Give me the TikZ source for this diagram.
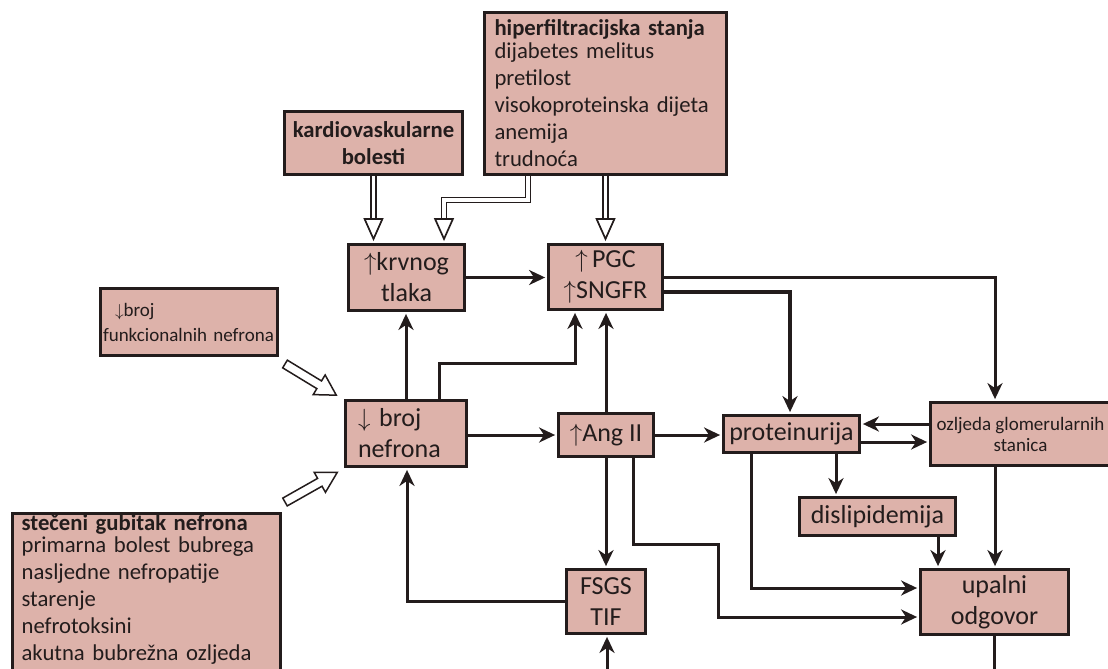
\documentclass[tikz,border=0pt]{standalone}
\usepackage{fontspec}
\setmainfont{Carlito}
\usetikzlibrary{arrows.meta}
\definecolor{boxfill}{RGB}{221,178,170}
\definecolor{ink}{RGB}{35,28,28}
\pgfdeclarelayer{bg}
\pgfsetlayers{bg,main}
\begin{document}
\begin{tikzpicture}[x=1pt,y=-1pt,
  box/.style={draw=ink, line width=3.6pt, fill=boxfill, text=ink, inner sep=0pt, align=center},
  fbig/.style={font=\fontsize{26}{31}\selectfont},
  fmid/.style={font=\fontsize{22.7}{27}\selectfont},
  fsmall/.style={font=\fontsize{19}{21}\selectfont},
  conn/.style={draw=ink, line width=3pt, line join=miter, shorten >=1.6pt,
    -{Stealth[length=16pt,width=15pt,inset=5pt]}},
  plain/.style={draw=ink, line width=3pt, line join=miter},
  hollow/.style={draw=ink, line width=1.7pt, double=white, double distance=3.4pt,
    line join=miter, shorten >=1.6pt,
    -{Triangle[open, length=23pt, width=20pt, line width=1.7pt]}},
  bigarrow/.style={draw=ink, line width=1.5pt, fill=white, line join=miter}
]
\useasboundingbox (0,0) rectangle (1108,669);
\clip (0,0) rectangle (1108,669);

% boxes
\node[box, font=\bfseries\fontsize{22.7}{27}\selectfont, minimum width=178pt, minimum height=63pt] (kardio) at (373.5,143) {kardiovaskularne\\bolesti};
\node[box, fmid, minimum width=242pt, minimum height=162pt, text width=222pt, align=left] (hiper) at (605.5,93.5)
  {\textbf{hiperfiltracijska stanja}\\[-4pt]dijabetes melitus\\pretilost\\visokoproteinska dijeta\\anemija\\trudnoća};
\node[box, fbig, minimum width=116pt, minimum height=66pt] (krvnog) at (406.5,277.5) {$\uparrow$krvnog\\tlaka};
\node[box, fbig, minimum width=114pt, minimum height=65pt] (PGC) at (605.5,277) {$\uparrow$\,PGC\\$\uparrow$SNGFR};
\node[box, font=\fontsize{19}{25}\selectfont, minimum width=177pt, minimum height=67pt, text width=172pt, align=left] (funk) at (189,322)
  {\hspace*{12pt}$\downarrow$broj\\funkcionalnih nefrona};
\node[box, fbig, minimum width=121pt, minimum height=66pt, text width=96pt, align=left] (broj) at (406,433.5) {$\downarrow$ broj\\nefrona};
\node[box, fbig, minimum width=95pt, minimum height=43pt] (Ang) at (606,435) {$\uparrow$Ang II};
\node[box, fbig, minimum width=136pt, minimum height=37pt] (prot) at (791.5,434) {proteinurija};
\node[box, fsmall, minimum width=180pt, minimum height=63pt] (ozl) at (1020.5,434) {ozljeda glomerularnih\\stanica};
\node[box, fbig, minimum width=156pt, minimum height=38pt] (dislip) at (877.5,516.5) {dislipidemija};
\node[box, fbig, minimum width=148pt, minimum height=65pt] (upalni) at (994.5,602) {upalni\\odgovor};
\node[box, fbig, minimum width=79pt, minimum height=64pt] (FSGS) at (606,601.5) {FSGS\\TIF};
\node[box, fmid, anchor=north west, minimum width=268pt, text width=250pt, align=left, inner xsep=9pt, inner ysep=1pt] (stec) at (10.8,511.8)
  {\textbf{stečeni gubitak nefrona}\\[-5pt]primarna bolest bubrega\\nasljedne nefropatije\\starenje\\nefrotoksini\\akutna bubrežna ozljeda\\\mbox{}};

% helper coordinates
\coordinate (h2a) at (528,200);
\coordinate (h2b) at (444,200);
\coordinate (a1) at (439,363);
\coordinate (k1) at (575,363);
\coordinate (c2) at (790,292);
\coordinate (c3) at (995,277);
\coordinate (c4) at (0,424);
\coordinate (c5) at (0,442);
\coordinate (r1) at (836,0);
\coordinate (q1) at (751,588);
\coordinate (s1) at (938,0);
\coordinate (p1) at (633,544);
\coordinate (p2) at (718,544);
\coordinate (p3) at (718,617);
\coordinate (c17) at (407,602);
\coordinate (bf) at (607,690);
\coordinate (bu) at (994,690);
\coordinate (d1) at (285,364);
\coordinate (d2) at (285,502);

\begin{pgfonlayer}{bg}
% hollow arrows
\draw[hollow] (kardio.south) -- (kardio.south |- krvnog.north);
\draw[hollow] (hiper.south -| h2a) -- (h2a) -- (h2b) -- (h2b |- krvnog.north);
\draw[hollow] (hiper.south) -- (hiper.south |- PGC.north);

% connectors
\draw[conn] (krvnog.east) -- (krvnog.east -| PGC.west);
\draw[conn] (broj.north) -- (broj.north |- krvnog.south);
\draw[conn] (broj.north -| a1) -- (a1) -- (k1) -- (k1 |- PGC.south);
\draw[conn] (Ang.north) -- (Ang.north |- PGC.south);
\draw[conn] (broj.east |- Ang.west) -- (Ang.west);
\draw[conn] (Ang.east) -- (Ang.east -| prot.west);
\draw[conn, line width=4.5pt] (PGC.east |- c2) -- (c2) -- (c2 |- prot.north);
\draw[conn] (PGC.east |- c3) -- (c3) -- (c3 |- ozl.north);
\draw[conn] (ozl.west |- c4) -- (prot.east |- c4);
\draw[conn] (prot.east |- c5) -- (ozl.west |- c5);
\draw[conn] (prot.south -| r1) -- (r1 |- dislip.north);
\draw[conn] (prot.south -| q1) -- (q1) -- (q1 -| upalni.west);
\draw[conn] (dislip.south -| s1) -- (s1 |- upalni.north);
\draw[conn] (ozl.south -| c3) -- (c3 |- upalni.north);
\draw[conn] (Ang.south) -- (Ang.south |- FSGS.north);
\draw[conn] (Ang.south -| p1) -- (p1) -- (p2) -- (p3) -- (p3 -| upalni.west);
\draw[conn] (FSGS.west) -- (FSGS.west -| c17) -- (c17 |- broj.south);
\draw[conn] (bf) -- (bf |- FSGS.south);
\draw[plain] (upalni.south) -- (upalni.south |- bu);
\end{pgfonlayer}

% big hollow arrows towards "broj nefrona"
\begin{scope}[shift={(d1)}, rotate=-31.3]
  \draw[bigarrow] (0,-4.5) -- (40,-4.5) -- (40,-11.5) -- (60,0) -- (40,11.5) -- (40,4.5) -- (0,4.5) -- cycle;
\end{scope}
\begin{scope}[shift={(d2)}, rotate=29.5]
  \draw[bigarrow] (0,-4.5) -- (40,-4.5) -- (40,-11.5) -- (60,0) -- (40,11.5) -- (40,4.5) -- (0,4.5) -- cycle;
\end{scope}
\end{tikzpicture}
\end{document}
